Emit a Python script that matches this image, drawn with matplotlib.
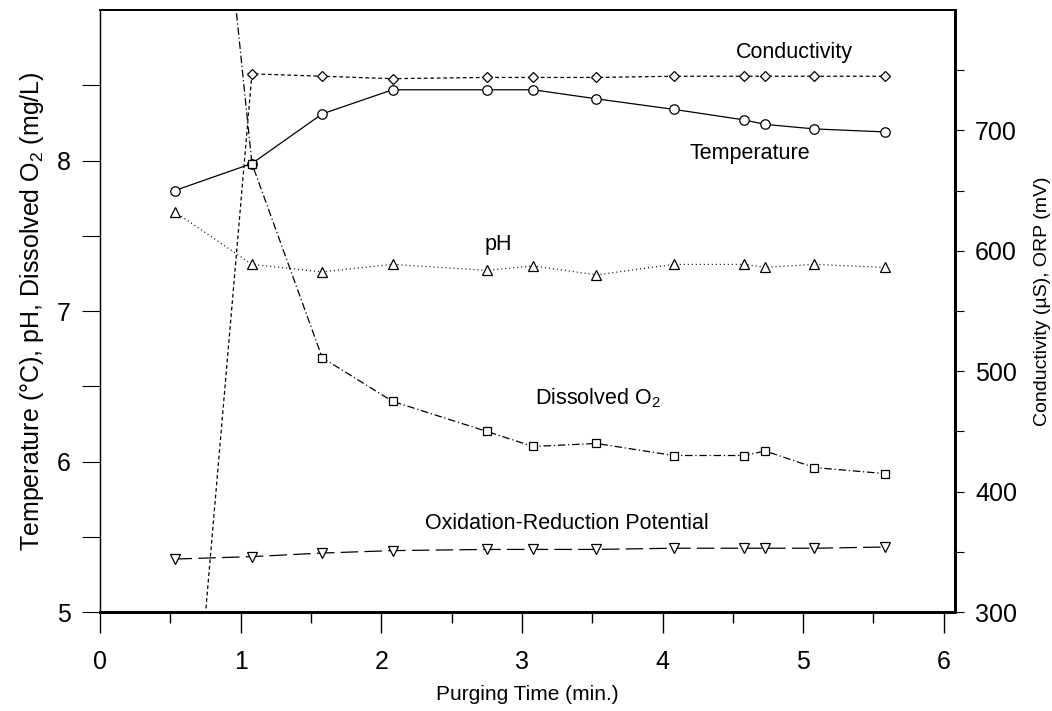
import matplotlib
matplotlib.use("Agg")
import matplotlib.pyplot as plt
from matplotlib.ticker import MultipleLocator, FixedLocator

plt.rcParams['font.family'] = ['Liberation Sans', 'DejaVu Sans']
plt.rcParams['mathtext.fontset'] = 'custom'
plt.rcParams['mathtext.rm'] = 'Liberation Sans'
plt.rcParams['mathtext.it'] = 'Liberation Sans:italic'

# purging time (min.)
time = [0.53, 1.08, 1.58, 2.08, 2.75, 3.08, 3.53, 4.08, 4.58, 4.73, 5.08, 5.58]

# left axis
temperature = [7.80, 7.98, 8.31, 8.47, 8.47, 8.47, 8.41, 8.34, 8.27, 8.24, 8.21, 8.19]
ph = [7.66, 7.31, 7.26, 7.31, 7.27, 7.30, 7.24, 7.31, 7.31, 7.29, 7.31, 7.29]
dissolved_o2 = [13.0, 7.98, 6.69, 6.40, 6.20, 6.10, 6.12, 6.04, 6.04, 6.07, 5.96, 5.92]

# right axis
conductivity = [0, 747, 745, 743, 744, 744, 744, 745, 745, 745, 745, 745]
orp = [344, 346, 349, 351, 352, 352, 352, 353, 353, 353, 353, 354]

left_ticks = [5, 6, 7, 8]
left_minor = [5.5, 6.5, 7.5, 8.5]
right_ticks = [300, 400, 500, 600, 700]
right_minor = [350, 450, 550, 650, 750]

fig = plt.figure(figsize=(10.52, 7.11), dpi=100)
ax = fig.add_axes([0.0951, 0.1392, 0.8127, 0.8467])
ax2 = ax.twinx()

mk = dict(markerfacecolor='white', markeredgecolor='black', markeredgewidth=0.9, color='black', lw=0.9)

ax.plot(time, temperature, '-', marker='o', markersize=6.8, **mk)
ax.plot(time, ph, marker='^', markersize=6.5, dashes=(0.8, 2.4), **mk)
ax.plot(time, dissolved_o2, marker='s', markersize=6.3, dashes=(6, 2.2, 1, 2.2), zorder=3, **mk)
ax2.plot(time, conductivity, marker='D', markersize=5.2, dashes=(3, 2.2), **mk)
ax2.plot(time, orp, marker='v', markersize=6.5, dashes=(14, 5), **mk)

ax.set_xlim(0, 6.08)
ax.set_ylim(5, 9)
ax2.set_ylim(300, 800)

ax.xaxis.set_major_locator(MultipleLocator(1))
ax.xaxis.set_minor_locator(MultipleLocator(0.5))
ax.yaxis.set_major_locator(FixedLocator(left_ticks))
ax.yaxis.set_minor_locator(FixedLocator(left_minor))
ax2.yaxis.set_major_locator(FixedLocator(right_ticks))
ax2.yaxis.set_minor_locator(FixedLocator(right_minor))

ax.tick_params(axis='x', which='major', direction='out', length=15, width=1.0, labelsize=18, pad=12)
ax.tick_params(axis='x', which='minor', direction='out', length=8, width=1.0)
ax.tick_params(axis='y', which='both', direction='out', length=13, width=0.8, labelsize=18, pad=8)
ax2.tick_params(axis='y', which='both', direction='out', length=6.5, width=0.8, labelsize=18, pad=8)

for a in (ax, ax2):
    a.spines['left'].set_linewidth(0.9)
    a.spines['top'].set_linewidth(1.2)
    a.spines['right'].set_linewidth(2.0)
    a.spines['bottom'].set_linewidth(2.0)

ax.set_xlabel('Purging Time (min.)', fontsize=15, labelpad=8)
ax.set_ylabel('Temperature (°C), pH, Dissolved O$_2$ (mg/L)', fontsize=18, labelpad=8)
ax2.set_ylabel('Conductivity (µS), ORP (mV)', fontsize=14, rotation=90, va='center')
ax2.yaxis.set_label_coords(1.102, 0.517)

ax.text(4.94, 8.72, 'Conductivity', fontsize=15.5, ha='center', va='center')
ax.text(4.62, 8.05, 'Temperature', fontsize=15.5, ha='center', va='center')
ax.text(2.83, 7.44, 'pH', fontsize=15.5, ha='center', va='center')
ax.text(3.54, 6.42, 'Dissolved O$_2$', fontsize=15.5, ha='center', va='center')
ax.text(3.32, 5.59, 'Oxidation-Reduction Potential', fontsize=15.5, ha='center', va='center')

fig.savefig('out.png', dpi=100)
